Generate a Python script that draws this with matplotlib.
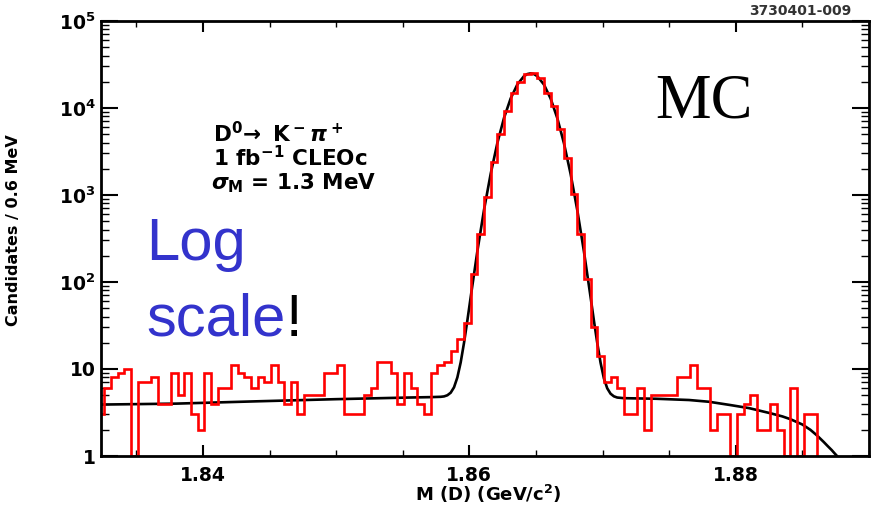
import numpy as np
import matplotlib.pyplot as plt
from matplotlib.ticker import MultipleLocator, LogLocator, NullFormatter

plt.rcParams['font.family'] = 'DejaVu Sans'
plt.rcParams['font.weight'] = 'bold'
plt.rcParams['mathtext.fontset'] = 'custom'
plt.rcParams['mathtext.rm'] = 'DejaVu Sans:bold'
plt.rcParams['mathtext.bf'] = 'DejaVu Sans:bold'
plt.rcParams['mathtext.it'] = 'DejaVu Sans:bold:italic'
plt.rcParams['mathtext.sf'] = 'DejaVu Sans:bold'

# MC candidates per 0.5 MeV bin, starting at M(D) = 1.8321 GeV
counts = [3, 6, 8, 9, 10, 1, 7, 7, 8, 4,
          4, 9, 5, 9, 3, 2, 9, 4, 6, 6,
          11, 9, 8, 6, 8, 7, 11, 7, 4, 7,
          3, 5, 5, 5, 9, 9, 11, 3, 3, 3,
          5, 6, 12, 12, 9, 4, 9, 6, 4, 3,
          9, 11, 12, 16, 22, 34, 125, 360, 950, 2400,
          5000, 9200, 15000, 20000, 24500, 25500, 22000, 15000, 10500, 5800,
          2650, 1020, 360, 108, 30, 14, 7, 8, 6, 3,
          3, 6, 2, 5, 5, 5, 5, 8, 8, 11,
          6, 6, 2, 3, 3, 1, 3, 4, 5, 2,
          2, 4, 2, 1, 6, 1, 3, 3]
bin_start = 1.8321
bin_width = 0.0005

# fitted signal + background curve
fit_mass = [1.8323, 1.8380, 1.8440, 1.8500, 1.8555, 1.8571,
            1.85785, 1.8581, 1.85835, 1.8586, 1.85885, 1.8591, 1.85935,
            1.8596, 1.85985, 1.8601, 1.8606, 1.8611, 1.8616, 1.8621,
            1.8626, 1.8631, 1.8636, 1.8641, 1.86435, 1.8646, 1.86485,
            1.8651, 1.8656, 1.8661, 1.8666, 1.8671, 1.8676, 1.8681,
            1.8686, 1.8691, 1.86935, 1.8696, 1.86985, 1.8701, 1.87035,
            1.8706, 1.87085, 1.8711, 1.8716, 1.8740, 1.8765, 1.8780,
            1.8796, 1.8810, 1.8826, 1.8835, 1.8841, 1.8850, 1.8856,
            1.8861, 1.8866, 1.8869, 1.8872, 1.8874, 1.8876, 1.8877]
fit_value = [3.9, 4.0, 4.25, 4.5, 4.7, 4.75,
             4.79, 4.84, 4.99, 5.34, 6.16, 8.0, 11.9,
             20, 36, 67, 225, 673, 1748, 3940,
             7665, 12855, 18600, 23220, 24540, 25000, 24540,
             23220, 18600, 12855, 7665, 3940, 1748, 673,
             225, 67, 36, 20, 11.8, 7.8, 6.0,
             5.2, 4.85, 4.7, 4.62, 4.55, 4.4, 4.2,
             3.85, 3.55, 3.1, 2.85, 2.65, 2.3, 2.0,
             1.72, 1.45, 1.3, 1.17, 1.08, 1.0, 0.95]

xticks = [1.84, 1.86, 1.88]
xtick_labels = ['1.84', '1.86', '1.88']
yticks = [1, 10, 100, 1000, 10000, 100000]
ytick_labels = ['1', '10', r'$10^2$', r'$10^3$', r'$10^4$', r'$10^5$']

W, H = 875, 505


def fpos(x, y):
    # pixel position -> figure fraction
    return x / W, 1 - y / H


fig = plt.figure(figsize=(W / 100, H / 100), dpi=100)
ax = fig.add_axes([101 / W, 1 - 456 / H, (869 - 101) / W, (456 - 21) / H])

edges = bin_start + bin_width * np.arange(len(counts) + 1)
ax.plot(fit_mass, fit_value, color='black', lw=1.9, zorder=2)
ax.stairs(counts, edges, color='red', lw=1.9, baseline=0.1, zorder=3)

ax.set_yscale('log')
ax.set_xlim(1.83235, 1.89)
ax.set_ylim(1, 1e5)
ax.set_xticks(xticks, xtick_labels)
ax.set_yticks(yticks, ytick_labels)
ax.xaxis.set_minor_locator(MultipleLocator(0.005))
ax.yaxis.set_minor_locator(LogLocator(base=10, subs=np.arange(2, 10)))
ax.yaxis.set_minor_formatter(NullFormatter())

for s in ax.spines.values():
    s.set_linewidth(2)
    s.set_zorder(4)
ax.tick_params(which='both', direction='in', top=True, right=True, labelsize=13.5)
ax.tick_params(axis='y', which='major', length=12, width=1.5, pad=4)
ax.tick_params(axis='y', which='minor', length=6, width=1)
ax.tick_params(axis='x', which='major', length=8, width=1.5, pad=7)
ax.tick_params(axis='x', which='minor', length=4, width=1)

fig.text(*fpos(488, 501), r'M (D) (GeV/c$^2$)', ha='center', va='baseline', size=13)
fig.text(*fpos(14, 230), 'Candidates / 0.6 MeV', rotation=90,
         ha='center', va='center', size=11.5)
fig.text(*fpos(800, 15), '3730401-009', ha='center', va='baseline',
         size=10, color='#333333')

# decay channel box
fig.text(*fpos(213, 142), r'$\mathrm{D^0}\!\rightarrow\ \mathrm{K^-}\pi^+$',
         va='baseline', size=15.5)
fig.text(*fpos(213, 166), r'1 fb$^{-1}$ CLEOc', va='baseline', size=15.5)
fig.text(*fpos(211, 189), r'$\sigma_\mathrm{M}$ = 1.3 MeV', va='baseline', size=15.5)

fig.text(*fpos(655, 117), 'MC', family='Liberation Serif', weight='normal',
         size=45, va='baseline')

blue = '#3333cc'
fig.text(*fpos(146, 260), 'Log', family='Liberation Sans', weight='normal',
         size=43, color=blue, va='baseline')
t_scale = fig.text(*fpos(146, 336), 'scale', family='Liberation Sans',
                   weight='normal', size=43, color=blue, va='baseline')
ax.annotate('!', xy=(1, 0), xycoords=t_scale, ha='left', va='bottom',
            family='Liberation Sans', weight='normal', size=43, color='black')

fig.savefig('out.png', dpi=100)
